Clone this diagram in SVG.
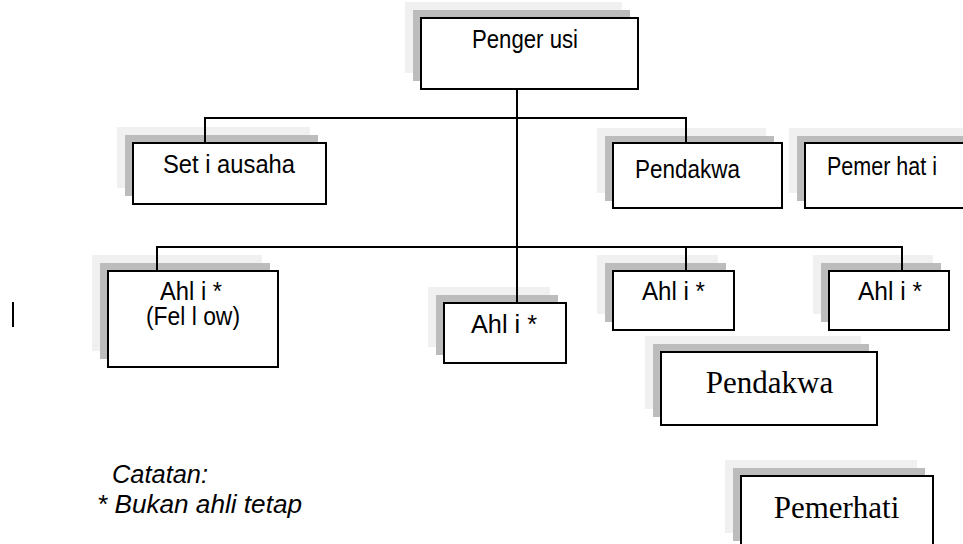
<svg xmlns="http://www.w3.org/2000/svg" width="963" height="544" viewBox="0 0 963 544">
<style>
.l{fill:#f0f0f0}
.d{fill:#bcbcbc}
.b{fill:#fff;stroke:#000;stroke-width:2}
.s{font-family:"Liberation Sans",Arial,sans-serif;font-size:26px;fill:#000}
.r{font-family:"Liberation Serif","Times New Roman",serif;font-size:31px;fill:#000}
.n{font-family:"Liberation Sans",Arial,sans-serif;font-size:25.5px;font-style:italic;fill:#000}
.c{fill:none;stroke:#000;stroke-width:2}
</style>
<rect width="963" height="544" fill="#fff"/>
<g id="pengerusi">
<rect class="l" x="405" y="2" width="217" height="71"/>
<rect class="d" x="413" y="10" width="217" height="71"/>
<rect class="b" x="421" y="18" width="217" height="71"/>
<text class="s" x="472" y="48" textLength="106" lengthAdjust="spacingAndGlyphs">Penger usi</text>
</g>
<g id="setiausaha">
<rect class="l" x="117" y="127" width="193" height="61"/>
<rect class="d" x="125" y="135" width="193" height="61"/>
<rect class="b" x="133" y="143" width="193" height="61"/>
<text class="s" x="163" y="173" textLength="132" lengthAdjust="spacingAndGlyphs">Set i ausaha</text>
</g>
<g id="pendakwa1">
<rect class="l" x="597" y="128" width="169" height="65"/>
<rect class="d" x="605" y="136" width="169" height="65"/>
<rect class="b" x="613" y="143" width="169" height="65"/>
<text class="s" x="635" y="178" font-size="22" textLength="105" lengthAdjust="spacingAndGlyphs">Pendakwa</text>
</g>
<g id="pemerhati1">
<rect class="l" x="789" y="128" width="190" height="65"/>
<rect class="d" x="797" y="136" width="190" height="65"/>
<rect class="b" x="805" y="143" width="190" height="65"/>
<text class="s" x="827" y="175" textLength="110" lengthAdjust="spacingAndGlyphs">Pemer hat i</text>
</g>
<g id="ahli-fellow">
<rect class="l" x="92" y="255" width="170" height="96"/>
<rect class="d" x="100" y="263" width="170" height="96"/>
<rect class="b" x="108" y="271" width="170" height="96"/>
<text class="s" x="160" y="300" textLength="62" lengthAdjust="spacingAndGlyphs">Ahl i *</text>
<text class="s" x="146" y="325" textLength="94" lengthAdjust="spacingAndGlyphs">(Fel l ow)</text>
</g>
<g id="ahli2">
<rect class="l" x="428" y="287" width="122" height="60"/>
<rect class="d" x="436" y="295" width="122" height="60"/>
<rect class="b" x="444" y="303" width="122" height="60"/>
<text class="s" x="471" y="333" textLength="66" lengthAdjust="spacingAndGlyphs">Ahl i *</text>
</g>
<g id="ahli3">
<rect class="l" x="597" y="255" width="121" height="59"/>
<rect class="d" x="605" y="263" width="121" height="59"/>
<rect class="b" x="613" y="271" width="121" height="59"/>
<text class="s" x="642" y="300" textLength="63" lengthAdjust="spacingAndGlyphs">Ahl i *</text>
</g>
<g id="ahli4">
<rect class="l" x="813" y="255" width="120" height="59"/>
<rect class="d" x="821" y="263" width="120" height="59"/>
<rect class="b" x="829" y="271" width="120" height="59"/>
<text class="s" x="858" y="300" textLength="64" lengthAdjust="spacingAndGlyphs">Ahl i *</text>
</g>
<g id="pendakwa2">
<rect class="l" x="645" y="336" width="216" height="73"/>
<rect class="d" x="653" y="344" width="216" height="73"/>
<rect class="b" x="661" y="352" width="216" height="73"/>
<text class="r" x="769.5" y="393" text-anchor="middle">Pendakwa</text>
</g>
<g id="pemerhati2">
<rect class="l" x="725" y="460" width="192" height="73"/>
<rect class="d" x="733" y="468" width="192" height="73"/>
<rect class="b" x="741" y="476" width="192" height="73"/>
<text class="r" x="836.5" y="518" text-anchor="middle">Pemerhati</text>
</g>
<g id="connectors">
<path class="c" d="M517 89V303"/>
<path class="c" d="M205 143V118H686V143"/>
<path class="c" d="M157 271V247H902V271"/>
<path class="c" d="M686 247V271"/>
</g>
<g id="notes">
<line x1="13" y1="302" x2="13" y2="327" stroke="#000" stroke-width="2"/>
<text class="n" x="112" y="483" textLength="96" lengthAdjust="spacingAndGlyphs">Catatan:</text>
<text class="n" x="97" y="513" textLength="205" lengthAdjust="spacingAndGlyphs">* Bukan ahli tetap</text>
</g>
</svg>
